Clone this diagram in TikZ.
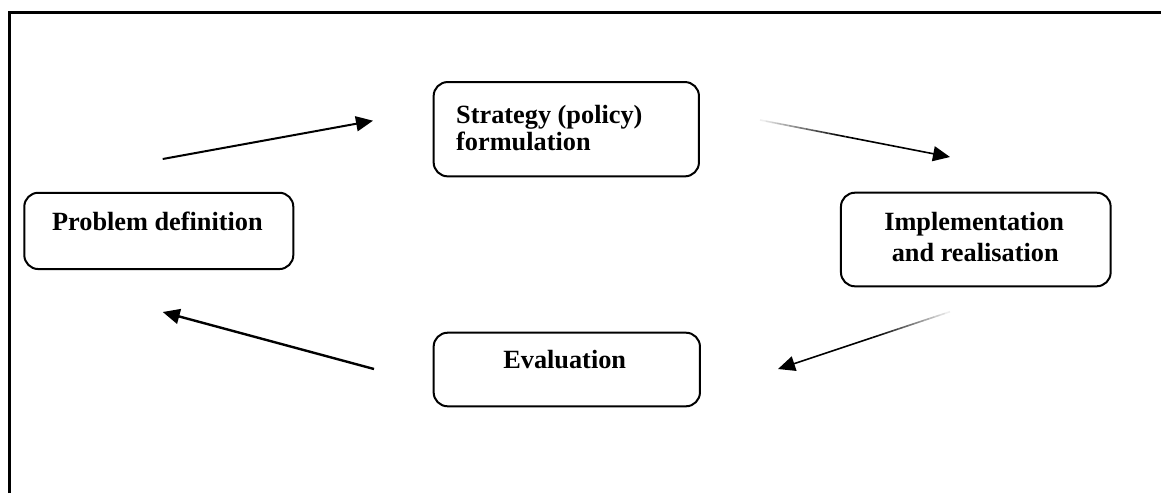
\documentclass[tikz,border=0pt]{standalone}
\usepackage{fontspec}
\setmainfont{Liberation Serif}
\usetikzlibrary{arrows.meta,calc}
\begin{document}
\begin{tikzpicture}[x=1pt,y=-1pt,
  box/.style={draw, line width=2pt, rounded corners=14pt, inner sep=0pt},
  lbl/.style={font=\fontsize{26.3}{30}\selectfont\bfseries, inner sep=0pt},
  arr/.style={-{Triangle[length=17pt,width=15pt]}, line width=2pt},
  fadeseg/.style={line width=1.6pt}]
\useasboundingbox (0,0) rectangle (1161,493);
\draw[line width=3pt] (9.5,493) -- (9.5,12.5) -- (1161,12.5);
% boxes
\node[box, minimum width=269pt, minimum height=76.3pt] (pd) at (158.8,230.9) {};
\node[box, minimum width=265.3pt, minimum height=94.3pt] (sf) at (566.3,129.2) {};
\node[box, minimum width=269.7pt, minimum height=93.6pt] (ir) at (975.8,239.5) {};
\node[box, minimum width=266.3pt, minimum height=73.6pt] (ev) at (566.8,369.5) {};
% texts
\node[lbl, anchor=base] (pdt) at (157.4,230) {Problem definition};
\node[lbl, anchor=base west] (sft1) at (456,123.3) {Strategy (policy)};
\node[lbl, anchor=base west] (sft2) at (456,150.7) {formulation};
\node[lbl, anchor=base] (irt1) at (974.2,230) {Implementation};
\node[lbl, anchor=base] (irt2) at (975.2,261.7) {and realisation};
\node[lbl, anchor=base] (evt) at (564.7,368.3) {Evaluation};
% arrow end points
\coordinate (a1s) at (162.7,159);
\coordinate (a1e) at (373,120.7);
\coordinate (a2s) at (760,120);
\coordinate (a2e) at (950,157);
\coordinate (a3s) at (374,369);
\coordinate (a3e) at (162.7,312);
\coordinate (a4s) at (950,311.7);
\coordinate (a4e) at (778,369);
% arrows
\draw[arr] (a1s) -- (a1e);
\draw[arr, line width=2.4pt] (a3s) -- (a3e);
\foreach \i in {0,...,14} {
  \pgfmathsetmacro\c{100*(\i+1)/15}
  \draw[fadeseg, black!\c] ($(a2s)!{\i*0.03}!(a2e)$) -- ($(a2s)!{(\i+1)*0.03}!(a2e)$);
  \draw[fadeseg, black!\c] ($(a4s)!{\i*0.03}!(a4e)$) -- ($(a4s)!{(\i+1)*0.03}!(a4e)$);
}
\draw[arr, line width=1.6pt] ($(a2s)!0.45!(a2e)$) -- (a2e);
\draw[arr, line width=1.6pt] ($(a4s)!0.45!(a4e)$) -- (a4e);
\end{tikzpicture}
\end{document}
